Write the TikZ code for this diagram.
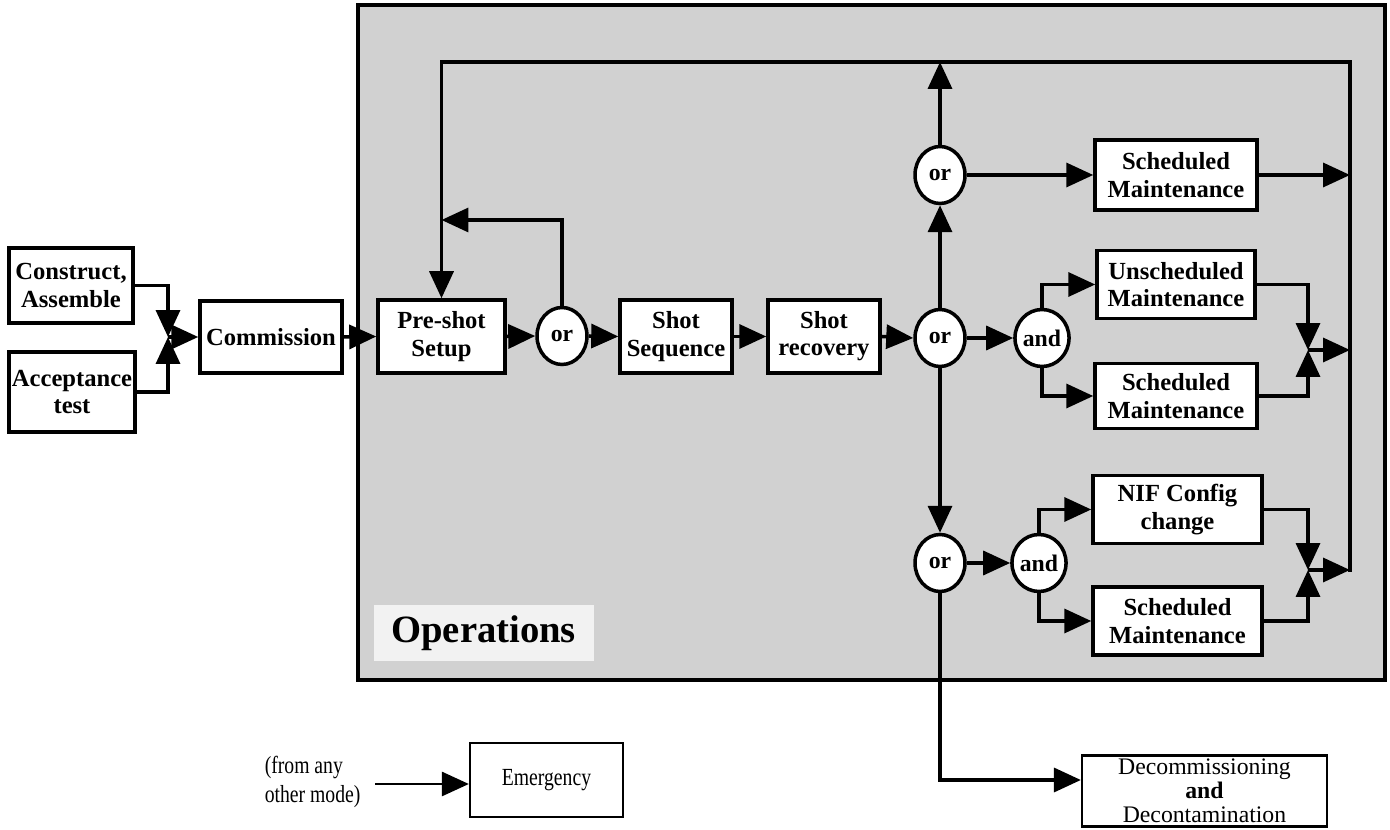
\documentclass[tikz,border=0pt]{standalone}
\usepackage{fontspec}
\setmainfont{Liberation Serif}
\usetikzlibrary{arrows.meta,shapes.geometric,calc}
\newcommand\boxfont{\fontsize{14}{15.5}\selectfont\bfseries}
\newcommand\gatefont{\fontsize{13.5}{15}\selectfont\bfseries}
\newcommand\plainfont{\fontsize{14}{16}\selectfont}
\newcommand\decfont{\fontsize{13.5}{13.8}\selectfont}
\begin{document}
\begin{tikzpicture}[x=0.02cm,y=-0.02cm,
  line width=2pt,
  box/.style={draw,line width=2pt,fill=white,align=center,inner sep=1pt,font=\boxfont},
  thinbox/.style={draw,line width=1.3pt,fill=white,align=center,inner sep=0pt},
  gate/.style={ellipse,draw,line width=2pt,fill=white,minimum width=1cm,minimum height=1.14cm,inner sep=0pt,font=\gatefont},
  arr/.style={-{Triangle[length=0.54cm,width=0.48cm]}},
  opsbg/.style={draw,line width=2pt,fill=black!18}]
\useasboundingbox (0,0) rectangle (1390,830);
% operations area
\draw[opsbg] (358,5) rectangle (1385,680);
\node[anchor=west,fill=black!5,inner xsep=10pt,inner ysep=6pt,font=\fontsize{22}{26}\selectfont\bfseries] (ops) at (372,633) {Operations};

% boxes
\node[box,minimum width=2.48cm,minimum height=1.5cm] (ca) at (71,285.5) {Construct,\\Assemble};
\node[box,minimum width=2.52cm,minimum height=1.6cm] (at) at (72,392) {Acceptance\\test};
\node[box,minimum width=2.84cm,minimum height=1.44cm] (comm) at (271,337) {Commission};
\node[box,minimum width=2.54cm,minimum height=1.46cm] (pre) at (441.5,336.5) {Pre-shot\\Setup};
\node[box,minimum width=2.24cm,minimum height=1.46cm] (seq) at (676,336.5) {Shot\\Sequence};
\node[box,minimum width=2.24cm,minimum height=1.46cm] (rec) at (824,336.5) {Shot\\recovery};
\node[box,minimum width=3.24cm,minimum height=1.4cm] (sm1) at (1176,175) {Scheduled\\Maintenance};
\node[box,minimum width=3.16cm,minimum height=1.36cm] (um) at (1176,284.5) {Unscheduled\\Maintenance};
\node[box,minimum width=3.24cm,minimum height=1.3cm] (sm2) at (1176,396) {Scheduled\\Maintenance};
\node[box,minimum width=3.38cm,minimum height=1.36cm] (nif) at (1177.5,509.5) {NIF Config\\change};
\node[box,minimum width=3.38cm,minimum height=1.36cm] (sm3) at (1177.5,621) {Scheduled\\Maintenance};
\node[thinbox,minimum width=4.9cm,minimum height=1.42cm,font=\decfont] (dec) at (1204.5,791) {Decommissioning\\\textbf{and}\\Decontamination};
\node[thinbox,minimum width=3.06cm,minimum height=1.48cm,font=\plainfont] (em) at (546.5,780) {\scalebox{0.8}[1]{Emergency}};
\node[anchor=west,align=left,inner sep=0pt,font=\plainfont] (from) at (263,782) {\scalebox{0.8}[1]{(from any}\\\scalebox{0.8}[1]{other mode)}};

% gates
\node[gate] (or1) at (562,336) {or};
\node[gate] (or2) at (940,338) {or};
\node[gate] (or3) at (940,175) {or};
\node[gate] (or4) at (940,563) {or};
\node[gate] (and1) at (1042,338) {and};
\node[gate] (and2) at (1039,563) {and};

% junction coordinates
\coordinate (j1) at (168,337);
\coordinate (j2) at (1308,350);
\coordinate (j3) at (1308,570);
\coordinate (tr) at (1350,62);
\coordinate (br) at (1350,572);
\coordinate (fbk) at (441.5,220);
\coordinate (fromend) at (375,784);

% left part
\draw[arr] (ca.east) -| (j1);
\draw[arr] (at.east) -| (j1);
\draw[arr] (j1) -- (comm.west);
\draw[arr] (comm.east) -- (pre.west);

% main line
\draw[arr] (pre.east) -- (or1.west);
\draw[arr] (or1.east) -- (seq.west);
\draw[arr] (seq.east) -- (rec.west);
\draw[arr] (rec.east) -- (or2.west);
\draw[arr] (or1.north) |- (fbk);

% return loop
\draw[arr] (br) -- (tr) -| (pre.north);

% upper branch
\draw[arr] (or2.north) -- (or3.south);
\draw[arr] (or3.north) -- (or3.north |- tr);
\draw[arr] (or3.east) -- (sm1.west);
\draw[arr] (sm1.east) -- (sm1.east -| br);

% middle branch
\draw[arr] (or2.east) -- (and1.west);
\draw[arr] (and1.north) |- (um.west);
\draw[arr] (and1.south) |- (sm2.west);
\draw[arr] (um.east) -| (j2);
\draw[arr] (sm2.east) -| (j2);
\draw[arr] (j2) -- (j2 -| br);

% lower branch
\draw[arr] (or2.south) -- (or4.north);
\draw[arr] (or4.east) -- (and2.west);
\draw[arr] (and2.north) |- (nif.west);
\draw[arr] (and2.south) |- (sm3.west);
\draw[arr] (nif.east) -| (j3);
\draw[arr] (sm3.east) -| (j3);
\draw[arr] (j3) -- (j3 -| br);

% decommissioning
\draw[arr] (or4.south) |- ($(dec.west)+(0,-11)$);

% emergency
\draw[arr,line width=1.6pt] (fromend) -- (em.west |- fromend);
\end{tikzpicture}
\end{document}
